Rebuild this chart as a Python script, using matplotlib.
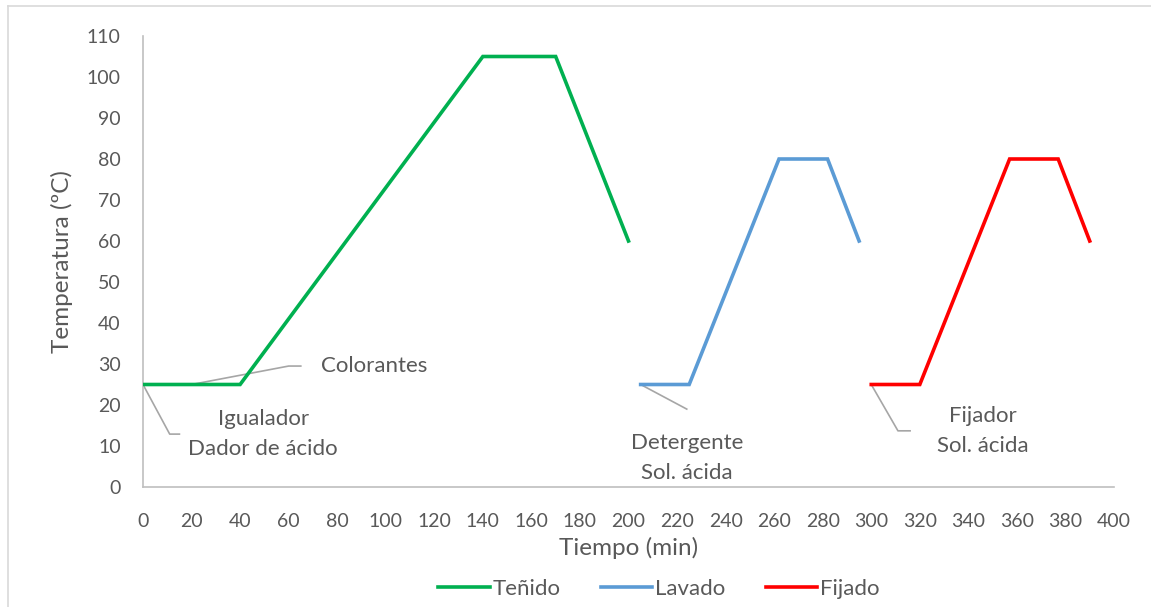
import matplotlib
matplotlib.use("Agg")
import matplotlib.pyplot as plt
from matplotlib.lines import Line2D

plt.rcParams['font.family'] = ['Lato', 'DejaVu Sans']

# Temperature profiles (time in min, temperature in °C)
tenido_t = [0, 40, 140, 170, 200]
tenido_c = [25, 25, 105, 105, 60]
lavado_t = [205, 225, 262, 282, 295]
lavado_c = [25, 25, 80, 80, 60]
fijado_t = [300, 320, 357, 377, 390]
fijado_c = [25, 25, 80, 80, 60]

series_names = ["Teñido", "Lavado", "Fijado"]
series_colors = ["#00B050", "#5B9BD5", "#FF0000"]

x_ticks = list(range(0, 401, 20))
y_ticks = list(range(0, 111, 10))

# Leader-line callouts: (anchor point, elbow points, text position, alignment, text)
callouts = [
    ((0, 25), [(11, 12.9), (15, 12.9)], (49.5, 12.9), 'center', "Igualador\nDador de ácido"),
    ((20, 25), [(60, 29.5), (65, 29.5)], (73.5, 29.5), 'left', "Colorantes"),
    ((205, 25), [(224, 19)], (224, 7.0), 'center', "Detergente\nSol. ácida"),
    ((300, 25), [(311, 13.7), (316, 13.7)], (346, 13.6), 'center', "Fijador\nSol. ácida"),
]

text_color = "#595959"
axis_color = "#BFBFBF"
leader_color = "#A6A6A6"

fig = plt.figure(figsize=(11.51, 6.07), dpi=100)
ax = fig.add_axes([143 / 1151, 1 - 487 / 607, (1114 - 143) / 1151, (487 - 36) / 607])

for t, c, name, col in zip([tenido_t, lavado_t, fijado_t],
                           [tenido_c, lavado_c, fijado_c],
                           series_names, series_colors):
    ax.plot(t, c, color=col, lw=2.6, label=name, solid_joinstyle='miter', zorder=3)

for anchor, elbow, tpos, ha, txt in callouts:
    xs = [anchor[0]] + [p[0] for p in elbow]
    ys = [anchor[1]] + [p[1] for p in elbow]
    ax.plot(xs, ys, color=leader_color, lw=1.2, zorder=2)
    ax.text(tpos[0], tpos[1], txt, ha=ha, va='center', fontsize=16,
            color=text_color, linespacing=1.62)

ax.set_xlim(0, 400)
ax.set_ylim(0, 110)
ax.set_xticks(x_ticks)
ax.set_yticks(y_ticks)
ax.tick_params(axis='both', length=0, labelsize=14, labelcolor=text_color)
ax.tick_params(axis='y', pad=16)
ax.tick_params(axis='x', pad=19)

for side in ['top', 'right']:
    ax.spines[side].set_visible(False)
for side in ['left', 'bottom']:
    ax.spines[side].set_color(axis_color)
    ax.spines[side].set_linewidth(1.2)

ax.set_xlabel("Tiempo (min)", fontsize=17.5, color=text_color, labelpad=5)
ax.set_ylabel("Temperatura (ºC)", fontsize=17.5, color=text_color, labelpad=10)

handles = [Line2D([0], [0], color=c, lw=2.6) for c in series_colors]
fig.legend(handles, series_names, loc='center', bbox_to_anchor=(659 / 1151, 1 - 589 / 607),
           ncol=3, frameon=False, fontsize=16, labelcolor=text_color,
           handlelength=2.3, handletextpad=0.15, columnspacing=1.8)

# Chart area frame
fig.add_artist(Line2D([8 / 1151, 8 / 1151], [0, 1 - 6 / 607], transform=fig.transFigure,
                      color="#D9D9D9", lw=1.2))
fig.add_artist(Line2D([8 / 1151, 1], [1 - 6 / 607, 1 - 6 / 607], transform=fig.transFigure,
                      color="#D9D9D9", lw=1.2))

fig.savefig("out.png", dpi=100, facecolor="white")
